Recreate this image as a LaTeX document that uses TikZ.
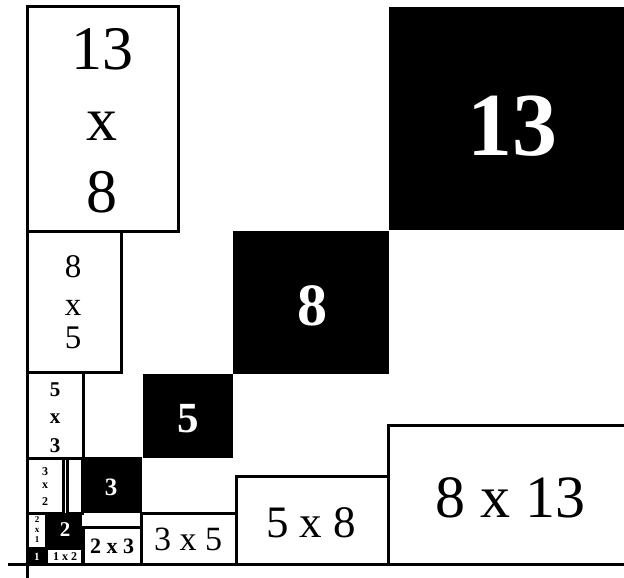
\documentclass[tikz,border=0pt]{standalone}
\usepackage{fontspec}
\setmainfont{Liberation Serif}
\newcommand{\fsz}[1]{\fontsize{#1}{#1}\selectfont}
\begin{document}
\begin{tikzpicture}[x=1pt,y=-1pt,
  box/.style={draw=black,line width=3pt,fill=white},
  blk/.style={fill=black},
  axis/.style={draw=black,line width=3pt},
  lab/.style={anchor=base,inner sep=0pt},
  wlab/.style={anchor=base,inner sep=0pt,text=white,font=\bfseries}]
\useasboundingbox (0,0) rectangle (624,578);
% left column boxes
\draw[box] (27.5,6.5) rectangle (178,231.5);
\draw[box] (27.5,231.5) rectangle (121,372);
\draw[box] (27.5,372) rectangle (83,458);
\draw[box] (27.5,458) rectangle (63,513);
\draw[box] (27.5,513) rectangle (46,548);
\draw[box] (67,458) rectangle (82,513);
% bottom row boxes
\draw[box] (46,548) rectangle (82,564);
\draw[box] (83,527) rectangle (141,564);
\draw[box] (141,513) rectangle (236,564);
\draw[box] (236,476) rectangle (388,564);
\draw[box] (388,425) rectangle (630,564);
% black squares
\fill[blk] (27,548) rectangle (46,564);
\fill[blk] (47,513) rectangle (82,548);
\fill[blk] (82,457) rectangle (142,513);
\fill[blk] (143,374) rectangle (233,458);
\fill[blk] (233,231) rectangle (389,374);
\fill[blk] (389,7) rectangle (630,230);
% axes
\draw[axis] (27.5,5) -- (27.5,578);
\draw[axis] (8,564) -- (624,564);
% labels: vertical boxes
\node[lab,font=\fsz{62}] (a1) at (102,70) {13};
\node[lab,font=\fsz{62}] (a2) at (102,140) {x};
\node[lab,font=\fsz{62}] (a3) at (102,212) {8};
\node[lab,font=\fsz{33}] (b1) at (73,277) {8};
\node[lab,font=\fsz{33}] (b2) at (73,315) {x};
\node[lab,font=\fsz{33}] (b3) at (73,348) {5};
\node[lab,font=\fsz{21}\bfseries] (c1) at (55,396) {5};
\node[lab,font=\fsz{21}\bfseries] (c2) at (55,423) {x};
\node[lab,font=\fsz{21}\bfseries] (c3) at (55,452) {3};
\node[lab,font=\fsz{12}\bfseries] (d1) at (45,475) {3};
\node[lab,font=\fsz{12}\bfseries] (d2) at (45,488) {x};
\node[lab,font=\fsz{12}\bfseries] (d3) at (45,505) {2};
\node[lab,font=\fsz{9}\bfseries] (e1) at (37,522) {2};
\node[lab,font=\fsz{9}\bfseries] (e2) at (37,532) {x};
\node[lab,font=\fsz{9}\bfseries] (e3) at (37,542) {1};
% labels: horizontal boxes
\node[lab,font=\fsz{12}\bfseries] (f) at (65,560) {1 x 2};
\node[lab,font=\fsz{22}\bfseries] (g) at (112,553) {2 x 3};
\node[lab,font=\fsz{34}] (h) at (188,550) {3 x 5};
\node[lab,font=\fsz{45}] (i) at (311,537) {5 x 8};
\node[lab,font=\fsz{60}] (j) at (510,517) {8 x 13};
% labels: black squares
\node[wlab,font=\fsz{11}\bfseries] (s1) at (37,560) {1};
\node[wlab,font=\fsz{21}\bfseries] (s2) at (65,536) {2};
\node[wlab,font=\fsz{25}\bfseries] (s3) at (111,495) {3};
\node[wlab,font=\fsz{43}\bfseries] (s5) at (188,432) {5};
\node[wlab,font=\fsz{60}\bfseries] (s8) at (312,325) {8};
\node[wlab,font=\fsz{90}\bfseries] (s13) at (512,155) {13};
\end{tikzpicture}
\end{document}
